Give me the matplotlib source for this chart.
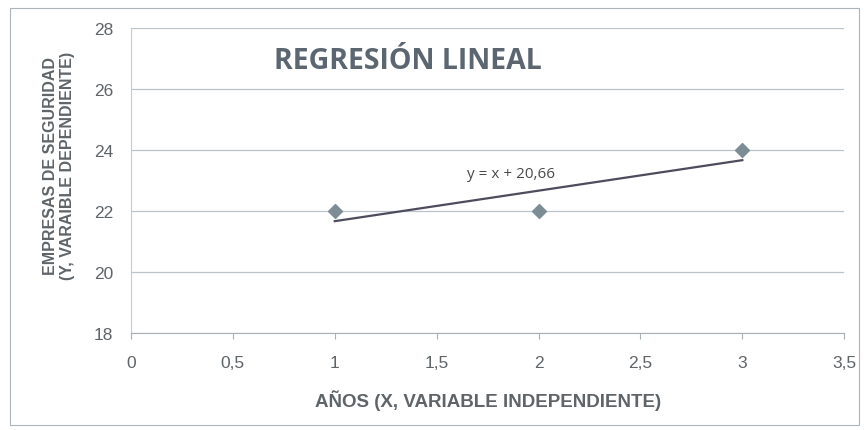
import matplotlib.pyplot as plt
import numpy as np
from matplotlib.patches import Rectangle

# datos
anios = [1, 2, 3]
empresas = [22, 22, 24]
pendiente = 1.0
intercepto = 20.66
x_ticks = [0, 0.5, 1, 1.5, 2, 2.5, 3, 3.5]
x_tick_labels = ['0', '0,5', '1', '1,5', '2', '2,5', '3', '3,5']
y_ticks = [18, 20, 22, 24, 26, 28]

gris_texto = '#5f6468'
gris_rejilla = '#b9c3c9'

fig = plt.figure(figsize=(8.64, 4.31), dpi=100)
fig.patch.set_facecolor('white')
# marco exterior del grafico
fig.patches.append(Rectangle((0.012, 0.012), 0.982, 0.968, transform=fig.transFigure,
                             fill=False, edgecolor='#a9b4bb', lw=0.8))

ax = fig.add_axes([0.1516, 0.225, 0.8255, 0.7077])

ax.set_xlim(0, 3.5)
ax.set_ylim(18, 28)
ax.set_xticks(x_ticks)
ax.set_xticklabels(x_tick_labels)
ax.set_yticks(y_ticks)

ax.grid(axis='y', color=gris_rejilla, lw=0.9)
ax.set_axisbelow(True)
for s in ['top', 'right']:
    ax.spines[s].set_visible(False)
ax.spines['left'].set_color('#c4ccd1')
ax.spines['bottom'].set_color('#a7b0b5')
ax.tick_params(axis='y', length=0, pad=13, labelsize=12.5, labelcolor=gris_texto)
ax.tick_params(axis='x', length=4, color='#a7b0b5', direction='out', pad=12,
               labelsize=12.5, labelcolor=gris_texto)
for lab in ax.get_xticklabels() + ax.get_yticklabels():
    lab.set_fontfamily('Liberation Sans')

# linea de tendencia
xt = np.array([anios[0], anios[-1]])
ax.plot(xt, pendiente * xt + intercepto + 0.007, color='#4e4b5c', lw=1.6, zorder=2)

ax.scatter(anios, empresas, marker='D', s=50, color='#7c8d96', zorder=3)

ax.text(1.65, 23.12, 'y = x + 20,66', fontsize=11, color='#4a4a4a',
        family='Open Sans')
ax.text(0.7, 26.68, 'REGRESIÓN LINEAL', fontsize=20.5, fontweight='bold',
        color='#5b6670', family='Open Sans')

ax.set_xlabel('AÑOS (X, VARIABLE INDEPENDIENTE)', fontsize=13.5, fontweight='bold',
              color=gris_texto, family='Liberation Sans', labelpad=14)
ax.set_ylabel('EMPRESAS DE SEGURIDAD\n(Y, VARAIBLE DEPENDIENTE)', fontsize=11.5,
              fontweight='bold', color=gris_texto, family='Liberation Sans',
              linespacing=1.1)
ax.yaxis.set_label_coords(-0.079, 0.55)

fig.savefig('out.png', dpi=100)
